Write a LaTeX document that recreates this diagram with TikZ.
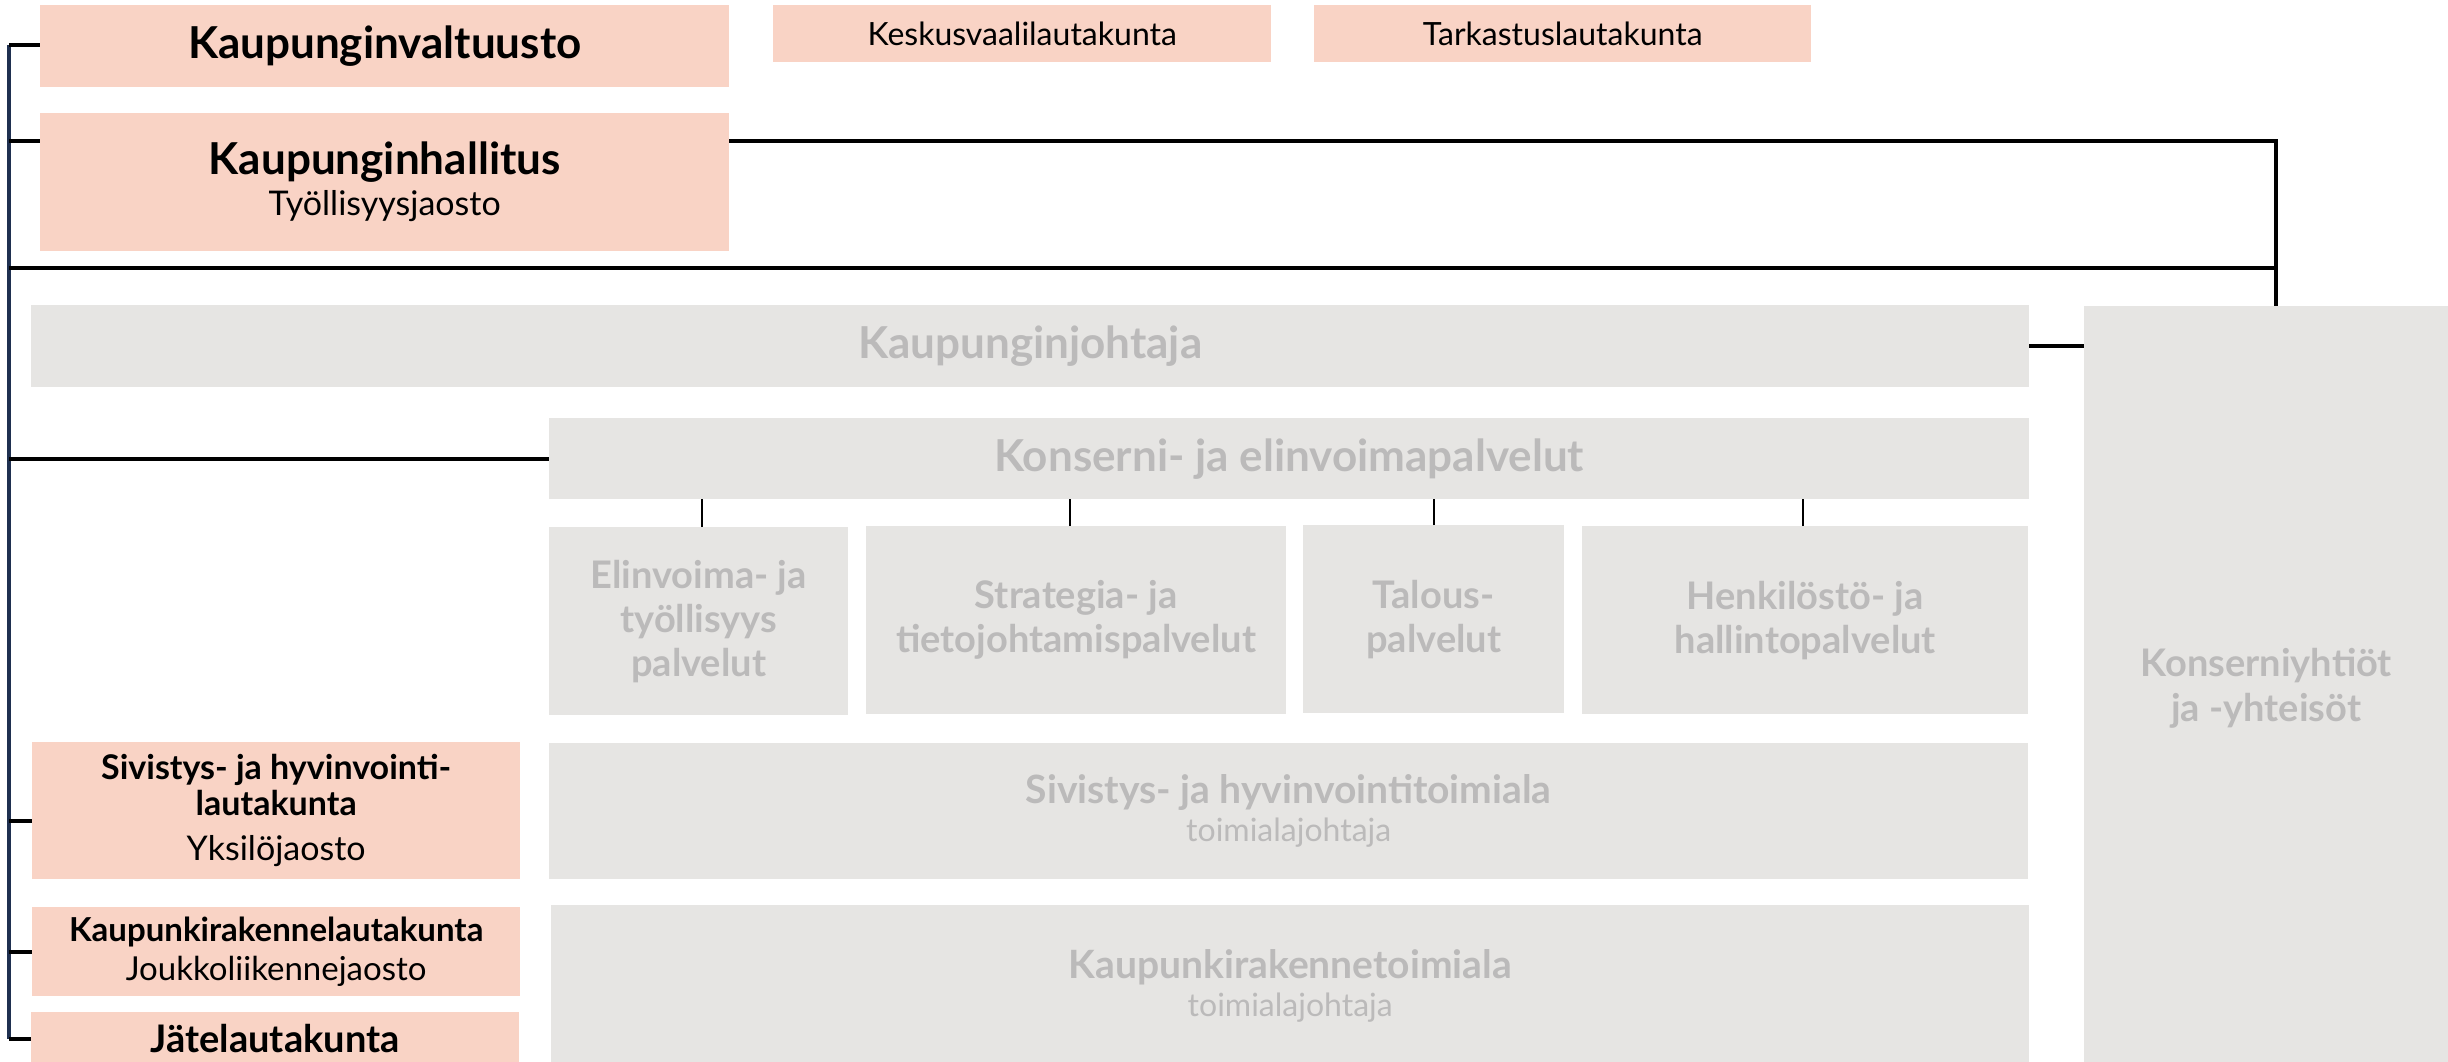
\documentclass[tikz,border=0pt]{standalone}
\usepackage{fontspec}
\setmainfont{Lato}
\definecolor{pinkfill}{HTML}{F9D3C5}
\definecolor{grayfill}{HTML}{E6E5E3}
\definecolor{graytext}{HTML}{BBBABA}
\definecolor{navyline}{HTML}{1F3050}
\newcommand{\fsz}[2]{\fontsize{#1}{#2}\selectfont}
\begin{document}
\begin{tikzpicture}[x=1pt,y=-1pt,
  pinkbox/.style={fill=pinkfill, draw=none, inner sep=0pt, anchor=north west, align=center, text=black},
  graybox/.style={fill=grayfill, draw=none, inner sep=0pt, anchor=north west, align=center, text=graytext},
  conn/.style={draw=black, line width=4pt},
  tick/.style={draw=black, line width=2.5pt},
  spine/.style={draw=navyline, line width=3.5pt}]
\useasboundingbox (0,0) rectangle (2448,1062);
\clip (0,0) rectangle (2448,1062);
\fill[white] (0,0) rectangle (2448,1062);

% pink boxes
\node[pinkbox, minimum width=689pt, minimum height=82pt, font=\fsz{44}{48}\bfseries] (kv) at (40,5) {Kaupunginvaltuusto};
\node[pinkbox, minimum width=498pt, minimum height=57pt, font=\fsz{32}{36}] (kvl) at (773,5) {Keskusvaalilautakunta};
\node[pinkbox, minimum width=497pt, minimum height=57pt, font=\fsz{32}{36}] (tark) at (1314,5) {Tarkastuslautakunta};
\node[pinkbox, minimum width=689pt, minimum height=138pt, font=\fsz{44}{41}] (kh) at (40,113) {{\bfseries Kaupunginhallitus}\\{\fsz{34}{41}Työllisyysjaosto}};
\node[pinkbox, minimum width=488pt, minimum height=137pt, font=\fsz{34}{36}] (svl) at (32,742) {{\bfseries Sivistys- ja hyvinvointi-}\\{\bfseries lautakunta}\\[9pt]{Yksilöjaosto}};
\node[pinkbox, minimum width=488pt, minimum height=89pt, font=\fsz{33}{39}] (krl) at (32,907) {{\bfseries Kaupunkirakennelautakunta}\\{Joukkoliikennejaosto}};
\node[pinkbox, minimum width=488pt, minimum height=52pt, font=\fsz{38}{42}\bfseries] (jl) at (31,1012) {Jätelautakunta};

% gray boxes
\node[graybox, minimum width=1998pt, minimum height=82pt, font=\fsz{44}{48}\bfseries] (kj) at (31,305) {Kaupunginjohtaja};
\node[graybox, minimum width=364pt, minimum height=764pt, font=\fsz{38}{45}\bfseries] (kony) at (2084,306) {Konserniyhtiöt\\ja -yhteisöt};
\node[graybox, minimum width=1480pt, minimum height=81pt, font=\fsz{44}{48}\bfseries] (kep) at (549,418) {Konserni- ja elinvoimapalvelut};
\node[graybox, minimum width=299pt, minimum height=188pt, font=\fsz{38}{44}\bfseries] (ev) at (549,527) {Elinvoima- ja\\työllisyys\\palvelut};
\node[graybox, minimum width=420pt, minimum height=188pt, font=\fsz{38}{44}\bfseries] (st) at (866,526) {Strategia- ja\\tietojohtamispalvelut};
\node[graybox, minimum width=261pt, minimum height=188pt, font=\fsz{38}{44}\bfseries] (ta) at (1303,525) {Talous-\\palvelut};
\node[graybox, minimum width=446pt, minimum height=188pt, font=\fsz{38}{44}\bfseries] (hk) at (1582,526) {Henkilöstö- ja\\hallintopalvelut};
\node[graybox, minimum width=1479pt, minimum height=136pt, font=\fsz{39}{38}] (svt) at (549,743) {{\bfseries Sivistys- ja hyvinvointitoimiala}\\{\fsz{32}{38}toimialajohtaja}};
\node[graybox, minimum width=1478pt, minimum height=162pt, font=\fsz{39}{38}] (krt) at (551,905) {{\bfseries Kaupunkirakennetoimiala}\\{\fsz{32}{38}toimialajohtaja}};

% connector points
\coordinate (top) at (9,45);
\coordinate (bot) at (9,1039);
\coordinate (khy) at (9,141);
\coordinate (riser) at (2276,141);
\coordinate (midy) at (9,268);
\coordinate (svly) at (9,821);

% spine
\draw[spine] (top) -- (bot);
% branches
\draw[conn] (top) -- (kv.west |- top);
\draw[conn] (khy) -- (kh.west |- khy);
\draw[conn] (kh.east |- khy) -- (riser) -- (riser |- kony.north);
\draw[conn] (midy) -- (riser |- midy);
\draw[conn] (kep.west -| top) -- (kep.west);
\draw[conn] (kj.east) -- (kony.west |- kj.east);
\draw[conn] (svly) -- (svl.west |- svly);
\draw[conn] (krl.west -| top) -- (krl.west);
\draw[conn] (bot) -- (jl.west |- bot);
% ticks
\draw[tick] (ev.north -| 702,0) -- (702,499);
\draw[tick] (st.north -| 1070,0) -- (1070,499);
\draw[tick] (ta.north -| 1434,0) -- (1434,499);
\draw[tick] (hk.north -| 1803,0) -- (1803,499);
\end{tikzpicture}
\end{document}
